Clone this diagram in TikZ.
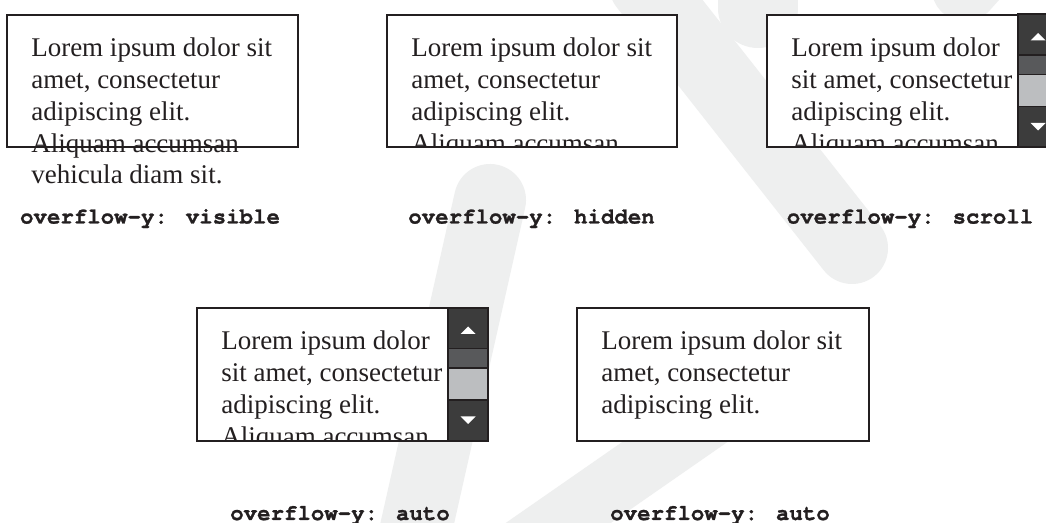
\documentclass[tikz,border=0pt]{standalone}
\usepackage{fontspec}
\setmainfont{Liberation Serif}
\newfontfamily\cssfont{texgyrecursor}[Extension=.otf, UprightFont=*-regular, BoldFont=*-bold, Ligatures={NoCommon}, BoldFeatures={FakeBold=1.2}]
\definecolor{ink}{HTML}{231F20}
\definecolor{wm}{HTML}{EEEFEF}
\definecolor{btn}{HTML}{3C3C3C}
\definecolor{thumbdark}{HTML}{58595B}
\definecolor{thumblight}{HTML}{BCBEC0}
\tikzset{
  wmband/.style={draw=wm, line cap=round},
  boxframe/.style={draw=ink, line width=1.5pt},
  boxfill/.style={fill=white},
  lorem/.style={anchor=base west, inner sep=0pt, text=ink, font=\fontsize{20.25}{24}\selectfont},
  csslabel/.style={anchor=base, inner sep=0pt, text=ink, font=\cssfont\bfseries\fontsize{16.8}{20}\selectfont},
  scrollbar/.pic={
    \fill[btn] (0,0) rectangle (40,133);
    \fill[thumbdark] (0,40.5) rectangle (40,60);
    \fill[thumblight] (0,60) rectangle (40,92);
    \draw[ink, line width=1.4pt] (0,40.5) -- (40,40.5) (0,60) -- (40,60) (0,92) -- (40,92);
    \draw[ink, line width=1.5pt] (0,0) rectangle (40,133);
    \fill[white] (20,18.5) -- (27.5,26) -- (12.5,26) -- cycle;
    \fill[white] (20,116) -- (27.5,108.5) -- (12.5,108.5) -- cycle;
  }
}
\begin{document}
\begin{tikzpicture}[x=0.75pt,y=-0.75pt]
\useasboundingbox (0,0) rectangle (1046,523);
\fill[white] (0,0) rectangle (1046,523);
% watermark
\draw[wmband, line width=54pt] (490,200) -- (400,600);
\draw[wmband, line width=54pt] (645,-15) -- (852,248);
\draw[wmband, line width=45pt] (505,560) -- (790,362);
\draw[wmband, line width=60pt] (758,-40) -- (758,8);
\draw[wmband, line width=50pt] (990,-40) -- (965,-12);

% ---- box 1: visible
\fill[boxfill] (7,15) rectangle (298,147);
\node[lorem] (v1) at (31,57) {Lorem ipsum dolor sit};
\node[lorem] (v2) at (31,88.75) {amet, consectetur};
\node[lorem] (v3) at (31,120.5) {adipiscing elit.};
\node[lorem] (v4) at (31,152.25) {Aliquam accumsan};
\node[lorem] (v5) at (31,184) {vehicula diam sit.};
\draw[boxframe] (7,15) rectangle (298,147);
\node[csslabel] (lv) at (150,223.5) {overflow-y: visible};

% ---- box 2: hidden
\fill[boxfill] (387,15) rectangle (677,147);
\begin{scope}
\clip (387,15) rectangle (677,146);
\node[lorem] (h1) at (411,57) {Lorem ipsum dolor sit};
\node[lorem] (h2) at (411,88.75) {amet, consectetur};
\node[lorem] (h3) at (411,120.5) {adipiscing elit.};
\node[lorem] (h4) at (411,152.25) {Aliquam accumsan};
\end{scope}
\draw[boxframe] (387,15) rectangle (677,147);
\node[csslabel] (lh) at (531.5,223.5) {overflow-y: hidden};

% ---- box 3: scroll
\fill[boxfill] (767,15) rectangle (1018,147);
\begin{scope}
\clip (767,15) rectangle (1018,146);
\node[lorem] (s1) at (791,57) {Lorem ipsum dolor};
\node[lorem] (s2) at (791,88.75) {sit amet, consectetur};
\node[lorem] (s3) at (791,120.5) {adipiscing elit.};
\node[lorem] (s4) at (791,152.25) {Aliquam accumsan};
\end{scope}
\draw[boxframe] (767,15) rectangle (1018,147);
\pic at (1018,14.5) {scrollbar};
\node[csslabel] (ls) at (910,223.5) {overflow-y: scroll};

% ---- box 4: auto with overflow
\fill[boxfill] (197,308) rectangle (448,441);
\begin{scope}
\clip (197,308) rectangle (448,440);
\node[lorem] (a1) at (221,350) {Lorem ipsum dolor};
\node[lorem] (a2) at (221,381.75) {sit amet, consectetur};
\node[lorem] (a3) at (221,413.5) {adipiscing elit.};
\node[lorem] (a4) at (221,445.25) {Aliquam accumsan};
\end{scope}
\draw[boxframe] (197,308) rectangle (448,441);
\pic at (448,308) {scrollbar};
\node[csslabel] (la) at (340,520) {overflow-y: auto};

% ---- box 5: auto without overflow
\fill[boxfill] (577,308) rectangle (869,441);
\node[lorem] (b1) at (601,350) {Lorem ipsum dolor sit};
\node[lorem] (b2) at (601,381.75) {amet, consectetur};
\node[lorem] (b3) at (601,413.5) {adipiscing elit.};
\draw[boxframe] (577,308) rectangle (869,441);
\node[csslabel] (lb) at (720,520) {overflow-y: auto};
\end{tikzpicture}
\end{document}
